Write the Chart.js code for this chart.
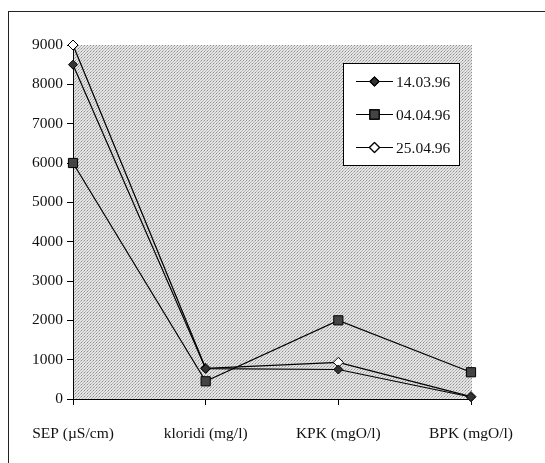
<!DOCTYPE html>
<html>
<head>
<meta charset="utf-8">
<script src="https://cdn.jsdelivr.net/npm/chart.js@4/dist/chart.umd.min.js"></script>
<style>
  body { margin: 0; background: #fff; }
  #wrap { width: 545px; height: 463px; }
</style>
</head>
<body>
<div id="wrap"><canvas id="chart" width="545" height="463"></canvas></div>
<script>
const categories = ['SEP (µS/cm)', 'kloridi (mg/l)', 'KPK (mgO/l)', 'BPK (mgO/l)'];
const dates = ['14.03.96', '04.04.96', '25.04.96'];
const mar14 = [8500, 770, 750, 50];
const apr04 = [6000, 450, 2000, 680];
const apr25 = [9000, 780, 930, 60];
const yTicks = [0, 1000, 2000, 3000, 4000, 5000, 6000, 7000, 8000, 9000];

const serif = "'Liberation Serif', 'DejaVu Serif', serif";

// stippled gray fill like the old spreadsheet plot area
function makePattern() {
    let c = document.createElement('canvas');
    c.width = 3; c.height = 3;
    let g = c.getContext('2d');
    g.fillStyle = '#e4e4e4';
    g.fillRect(0, 0, 3, 3);
    g.fillStyle = '#8e8e8e';
    g.fillRect(0, 0, 1, 1);
    g.fillStyle = '#b6b6b6';
    g.fillRect(2, 1, 1, 1);
    g.fillRect(1, 2, 1, 1);
    return g.createPattern(c, 'repeat');
}

const frame = {
    id: 'frame',
    beforeDraw(chart) {
        const ctx = chart.ctx, a = chart.chartArea;
        ctx.save();
        ctx.fillStyle = '#fff';
        ctx.fillRect(0, 0, chart.width, chart.height);
        ctx.strokeStyle = '#222';
        ctx.lineWidth = 1;
        ctx.strokeRect(8.5, 11.5, 700, 700);
        ctx.fillStyle = makePattern();
        ctx.fillRect(a.left, a.top, a.right - a.left + 1, a.bottom - a.top);
        ctx.restore();
    }
};

const boxLegend = {
    id: 'boxLegend',
    afterDatasetsDraw(chart) {
        const ctx = chart.ctx;
        const x = 343.5, y = 63.5, w = 116, h = 102;
        ctx.save();
        ctx.fillStyle = '#fff';
        ctx.fillRect(x, y, w, h);
        ctx.strokeStyle = '#000';
        ctx.lineWidth = 1;
        ctx.strokeRect(x, y, w, h);
        chart.data.datasets.forEach((ds, i) => {
            const cy = y + 18 + i * 33;
            ctx.strokeStyle = '#000';
            ctx.lineWidth = 1.2;
            ctx.beginPath();
            ctx.moveTo(356, cy);
            ctx.lineTo(393, cy);
            ctx.stroke();
            Chart.helpers.drawPoint(ctx, {
                pointStyle: ds.pointStyle,
                radius: ds.pointRadius,
                borderWidth: 1
            }, 374.5, cy);
            ctx.fillStyle = ds.pointBackgroundColor;
            ctx.strokeStyle = '#000';
            ctx.fill();
            ctx.stroke();
            ctx.fillStyle = '#111';
            ctx.font = '15.5px ' + serif;
            ctx.textBaseline = 'middle';
            ctx.fillText(ds.label, 396, cy + 1);
        });
        ctx.restore();
    }
};

function series(label, data, style, radius, fill) {
    return {
        label: label,
        data: data,
        borderColor: '#000',
        borderWidth: 1.2,
        pointStyle: style,
        pointRadius: radius,
        pointHoverRadius: radius,
        pointBackgroundColor: fill,
        pointBorderColor: '#000',
        pointBorderWidth: 1,
        tension: 0,
        clip: false
    };
}

new Chart(document.getElementById('chart').getContext('2d'), {
    type: 'line',
    data: {
        labels: categories,
        datasets: [
            series(dates[0], mar14, 'rectRot', 4.5, '#333'),
            series(dates[1], apr04, 'rect', 6.5, '#444'),
            series(dates[2], apr25, 'rectRot', 5, '#fff')
        ]
    },
    options: {
        responsive: false,
        animation: false,
        layout: { padding: { top: 45, right: 74, left: 0, bottom: 0 } },
        scales: {
            x: {
                offset: false,
                grid: { display: true, drawOnChartArea: false, color: '#000', tickLength: 6 },
                border: { color: '#000', width: 1 },
                ticks: { color: '#111', font: { family: serif, size: 15.5 }, padding: 20, maxRotation: 0 },
                afterFit(s) { s.height = 64; }
            },
            y: {
                min: 0,
                max: 9000,
                afterBuildTicks(s) { s.ticks = yTicks.map(v => ({ value: v })); },
                grid: { display: true, drawOnChartArea: false, color: '#000', tickLength: 6 },
                border: { color: '#000', width: 1 },
                ticks: {
                    color: '#111',
                    font: { family: serif, size: 15.5 },
                    padding: 4,
                    callback: v => String(v)
                },
                afterFit(s) { s.width = 73; }
            }
        },
        plugins: {
            legend: { display: false },
            tooltip: { enabled: false }
        }
    },
    plugins: [frame, boxLegend]
});
</script>
</body>
</html>
